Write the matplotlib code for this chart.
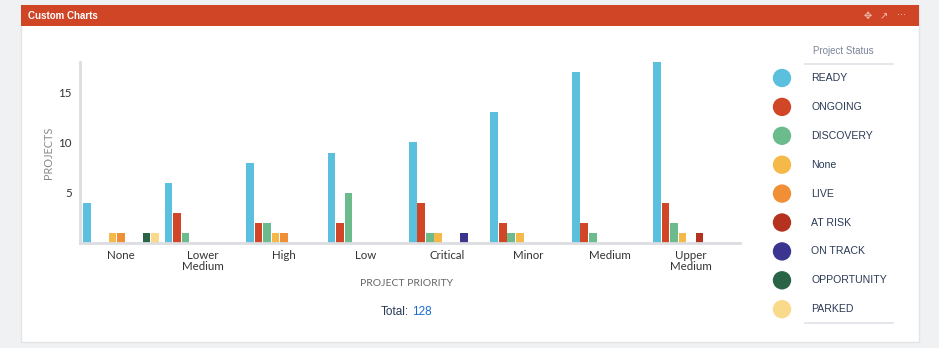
import matplotlib
matplotlib.use("Agg")
from matplotlib import pyplot as plt
from matplotlib.patches import Rectangle
import numpy as np

categories = ['None', 'Lower\nMedium', 'High', 'Low', 'Critical', 'Minor', 'Medium', 'Upper\nMedium']
statuses = ['READY', 'ONGOING', 'DISCOVERY', 'None', 'LIVE', 'AT RISK', 'ON TRACK', 'OPPORTUNITY', 'PARKED']
colors = ['#5bc0de', '#d04626', '#6bbb8d', '#f5b94a', '#f08f36', '#b5321e', '#3b3590', '#2a6446', '#f9d98a']

ready = [4, 6, 8, 9, 10, 13, 17, 18]
ongoing = [0, 3, 2, 2, 4, 2, 2, 4]
discovery = [0, 1, 2, 5, 1, 1, 1, 2]
none_status = [1, 0, 1, 0, 1, 1, 0, 1]
live = [1, 0, 1, 0, 0, 0, 0, 0]
at_risk = [0, 0, 0, 0, 0, 0, 0, 1]
on_track = [0, 0, 0, 0, 1, 0, 0, 0]
opportunity = [1, 0, 0, 0, 0, 0, 0, 0]
parked = [1, 0, 0, 0, 0, 0, 0, 0]
series = [ready, ongoing, discovery, none_status, live, at_risk, on_track, opportunity, parked]

W, H = 939, 348
fig = plt.figure(figsize=(W / 100, H / 100), dpi=100)
fig.patch.set_facecolor('#f0f1f3')

# pixel-space overlay for card, header and legend
bg = fig.add_axes([0, 0, 1, 1], zorder=0)
bg.set_xlim(0, W)
bg.set_ylim(H, 0)
bg.axis('off')
bg.add_patch(Rectangle((21, 5), 898, 337, facecolor='white', edgecolor='#e2e4e8', lw=1))
bg.add_patch(Rectangle((21, 5), 898, 21, facecolor='#cf4526', edgecolor='none'))
bg.text(28, 16, 'Custom Charts', color='white', fontsize=7, fontweight='bold',
        va='center', family='Liberation Sans')
bg.text(868, 16, '\u2725', color='#f3c2b3', fontsize=7, va='center', ha='center')
bg.text(884, 16, '\u2197', color='#f3c2b3', fontsize=7, va='center', ha='center')
bg.text(901, 15, '\u00b7\u00b7\u00b7', color='#f3c2b3', fontsize=7, va='center', ha='center')

# legend
bg.text(843, 51, 'Project Status', color='#7a8499', fontsize=7, ha='center', va='center',
        family='Liberation Sans')
bg.plot([805, 893], [64, 64], color='#dfe2e8', lw=1.2)
bg.plot([805, 893], [323, 323], color='#dfe2e8', lw=1.2)
for i, (name, c) in enumerate(zip(statuses, colors)):
    y = 78 + i * 28.9
    bg.scatter([782], [y], s=175, color=c, edgecolors='none')
    bg.text(811, y, name, color='#2b3a55', fontsize=7.6, va='center', family='Liberation Sans')

bg.text(407, 284, 'PROJECT PRIORITY', color='#666666', fontsize=7.5, ha='center', va='center',
        family='Lato')
bg.text(409, 312, 'Total:', color='#2b3a55', fontsize=8.5, ha='right', va='center',
        family='Liberation Sans')
bg.text(412, 312, '128', color='#1a6ad4', fontsize=8.5, ha='left', va='center',
        family='Liberation Sans')

# main chart
ax = fig.add_axes([80 / W, 1 - 243 / H, 660 / W, 181 / H], zorder=1)
ax.patch.set_alpha(0)
x = np.arange(len(categories))
slot = 0.1044
for j, (vals, c) in enumerate(zip(series, colors)):
    ax.bar(x + (j - 4) * slot, vals, width=slot * 0.9, color=c, linewidth=0)

ax.set_xlim(-0.504, 7.6)
ax.set_ylim(0, 18)
ax.set_yticks([5, 10, 15])
ax.set_xticks(x)
ax.set_xticklabels(categories, fontsize=8.3, color='#333333', family='Lato', linespacing=1.05)
ax.tick_params(axis='y', labelsize=8.3, labelcolor='#333333', length=0, pad=6)
ax.tick_params(axis='x', length=0, pad=5)
for lbl in ax.get_yticklabels():
    lbl.set_family('Lato')
for side in ['top', 'right']:
    ax.spines[side].set_visible(False)
for side in ['left', 'bottom']:
    ax.spines[side].set_color('#dcdde0')
    ax.spines[side].set_linewidth(2)
ax.set_ylabel('PROJECTS', fontsize=7.8, color='#888888', family='Lato', labelpad=3)

fig.savefig('out.png', dpi=100)
